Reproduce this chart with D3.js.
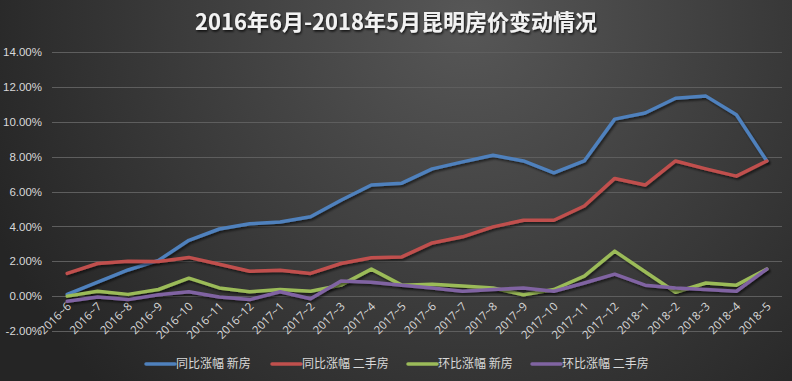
<!DOCTYPE html>
<html lang="zh">
<head>
<meta charset="UTF-8">
<title>2016年6月-2018年5月昆明房价变动情况</title>
<script src="https://cdnjs.cloudflare.com/ajax/libs/d3/7.8.5/d3.min.js"></script>
<style>
  html, body { margin: 0; padding: 0; background: #2a2a2a; }
  svg { display: block; }
</style>
</head>
<body>
<div id="chart"></div>
<script>
// months on the x axis
const months = ["2016~6","2016~7","2016~8","2016~9","2016~10","2016~11","2016~12",
  "2017~1","2017~2","2017~3","2017~4","2017~5","2017~6","2017~7","2017~8","2017~9",
  "2017~10","2017~11","2017~12","2018~1","2018~2","2018~3","2018~4","2018~5"];

// values in percent
const yoyNew  = [0.1, 0.8, 1.5, 2.05, 3.2, 3.85, 4.15, 4.25, 4.55, 5.5, 6.37, 6.48,
                 7.3, 7.7, 8.08, 7.75, 7.07, 7.75, 10.15, 10.5, 11.35, 11.47, 10.4, 7.75];
const yoyUsed = [1.3, 1.87, 2.0, 1.98, 2.22, 1.83, 1.43, 1.48, 1.3, 1.87, 2.2, 2.25,
                 3.05, 3.4, 3.97, 4.35, 4.35, 5.17, 6.75, 6.37, 7.75, 7.3, 6.88, 7.75];
const momNew  = [0.0, 0.28, 0.1, 0.38, 1.03, 0.47, 0.25, 0.38, 0.28, 0.63, 1.55, 0.63,
                 0.68, 0.58, 0.47, 0.08, 0.38, 1.15, 2.58, 1.4, 0.22, 0.75, 0.63, 1.55];
const momUsed = [-0.3, -0.05, -0.2, 0.08, 0.25, -0.05, -0.2, 0.25, -0.15, 0.87, 0.8, 0.63,
                 0.47, 0.28, 0.38, 0.47, 0.28, 0.75, 1.26, 0.63, 0.47, 0.38, 0.28, 1.55];

const seriesNames = ["同比涨幅 新房", "同比涨幅 二手房", "环比涨幅 新房", "环比涨幅 二手房"];
const seriesColors = ["#4f81bd", "#c0504d", "#9bbb59", "#8064a2"];
const yTicks = [-2, 0, 2, 4, 6, 8, 10, 12, 14];

const W = 792, H = 381;
const svg = d3.select("#chart").append("svg").attr("width", W).attr("height", H);
const defs = svg.append("defs");

const bg = defs.append("radialGradient").attr("id", "bg")
  .attr("gradientUnits", "userSpaceOnUse")
  .attr("cx", 470).attr("cy", 20).attr("r", 520);
bg.append("stop").attr("offset", "0%").attr("stop-color", "#575757");
bg.append("stop").attr("offset", "100%").attr("stop-color", "#252525");
svg.append("rect").attr("width", W).attr("height", H).attr("fill", "url(#bg)");

const shadow = defs.append("filter").attr("id", "shadow")
  .attr("x", "-10%").attr("y", "-10%").attr("width", "120%").attr("height", "130%");
shadow.append("feDropShadow").attr("dx", 1.5).attr("dy", 2).attr("stdDeviation", 1.2)
  .attr("flood-color", "#000").attr("flood-opacity", 0.55);

const tshadow = defs.append("filter").attr("id", "tshadow");
tshadow.append("feDropShadow").attr("dx", 1).attr("dy", 1.5).attr("stdDeviation", 1)
  .attr("flood-color", "#000").attr("flood-opacity", 0.8);

const x = d3.scalePoint().domain(months).range([52, 782]).padding(0.5);
const y = d3.scaleLinear().domain([-2, 14]).range([331, 52]);

// title
svg.append("text")
  .attr("x", 396).attr("y", 30)
  .attr("text-anchor", "middle")
  .attr("font-family", "'Noto Sans CJK SC', 'Noto Sans', sans-serif")
  .attr("font-weight", "bold")
  .attr("font-size", 22)
  .attr("fill", "#f2f2f2")
  .attr("filter", "url(#tshadow)")
  .text("2016年6月-2018年5月昆明房价变动情况");

// gridlines
svg.append("g").selectAll("line").data(yTicks).join("line")
  .attr("x1", 52).attr("x2", 782)
  .attr("y1", d => Math.round(y(d)) + 0.5).attr("y2", d => Math.round(y(d)) + 0.5)
  .attr("stroke", "#5e5e5e").attr("stroke-width", 1);

// y axis labels
const yAxis = svg.append("g").attr("transform", "translate(42,0)")
  .call(d3.axisLeft(y).tickValues(yTicks).tickSize(0).tickPadding(0)
    .tickFormat(d => d.toFixed(2) + "%"));
yAxis.select(".domain").remove();
yAxis.selectAll("text")
  .attr("font-family", "'Liberation Sans', Arial, sans-serif")
  .attr("font-size", 11.5).attr("fill", "#d9d9d9");

// x axis labels, rotated
const xAxis = svg.append("g").attr("transform", "translate(0,300)")
  .call(d3.axisBottom(x).tickSize(0).tickPadding(0));
xAxis.select(".domain").remove();
xAxis.selectAll("text")
  .attr("font-family", "'Open Sans', 'Liberation Sans', sans-serif")
  .attr("font-size", 11.5).attr("fill", "#d9d9d9")
  .attr("text-anchor", "end")
  .attr("dy", "0.7em")
  .attr("transform", "rotate(-45) translate(-2,0)");

// lines
const series = [yoyNew, yoyUsed, momNew, momUsed];
const line = d3.line().x((d, i) => x(months[i])).y(d => y(d));
svg.append("g").selectAll("path").data(series).join("path")
  .attr("d", line)
  .attr("fill", "none")
  .attr("stroke", (d, i) => seriesColors[i])
  .attr("stroke-width", 3.5)
  .attr("stroke-linejoin", "round")
  .attr("stroke-linecap", "round")
  .attr("filter", "url(#shadow)");

// legend
const legendX = [146, 272, 408, 532];
const legend = svg.append("g").selectAll("g").data(seriesNames).join("g")
  .attr("transform", (d, i) => `translate(${legendX[i]},364)`);
legend.append("line")
  .attr("x1", 0).attr("x2", 29).attr("y1", 0).attr("y2", 0)
  .attr("stroke", (d, i) => seriesColors[i])
  .attr("stroke-width", 3.5).attr("stroke-linecap", "round");
legend.append("text")
  .attr("x", 30).attr("y", 0).attr("dy", "0.36em")
  .attr("font-family", "'Noto Sans CJK SC', sans-serif")
  .attr("font-size", 12).attr("fill", "#d9d9d9")
  .text(d => d);
</script>
</body>
</html>
